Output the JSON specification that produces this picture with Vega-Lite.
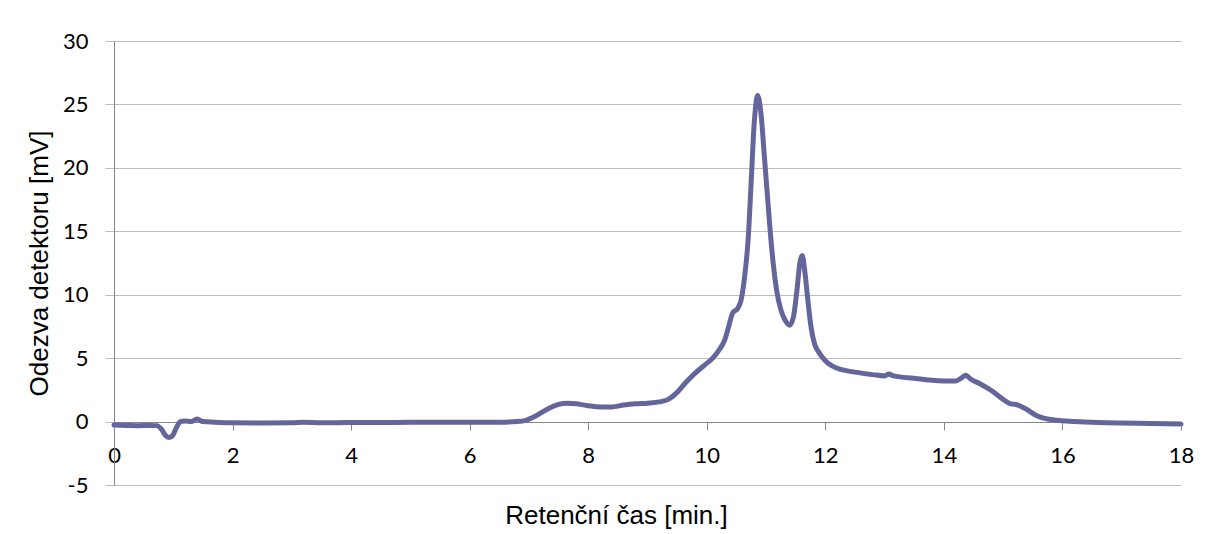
{
  "$schema": "https://vega.github.io/schema/vega-lite/v6.json",
  "autosize": "none",
  "width": 1067,
  "height": 444,
  "padding": {"left": 114, "top": 41, "right": 25, "bottom": 49},
  "background": "white",
  "config": {"view": {"stroke": null}},
  "data": {
    "values": [
      {"t": 0, "v": -0.28}, {"t": 0.2, "v": -0.3}, {"t": 0.4, "v": -0.32}, {"t": 0.6, "v": -0.3},
      {"t": 0.72, "v": -0.32}, {"t": 0.8, "v": -0.6}, {"t": 0.87, "v": -1.1}, {"t": 0.92, "v": -1.25},
      {"t": 0.98, "v": -1.15}, {"t": 1.05, "v": -0.5}, {"t": 1.12, "v": 0.0}, {"t": 1.2, "v": 0.05},
      {"t": 1.3, "v": 0.0}, {"t": 1.4, "v": 0.2}, {"t": 1.5, "v": 0.0}, {"t": 1.7, "v": -0.05},
      {"t": 2.0, "v": -0.1}, {"t": 2.5, "v": -0.12}, {"t": 3.0, "v": -0.1}, {"t": 3.2, "v": -0.05},
      {"t": 3.5, "v": -0.1}, {"t": 4.0, "v": -0.08}, {"t": 4.5, "v": -0.08}, {"t": 5.0, "v": -0.05},
      {"t": 5.5, "v": -0.06}, {"t": 6.0, "v": -0.05}, {"t": 6.5, "v": -0.05}, {"t": 6.8, "v": 0.0},
      {"t": 6.95, "v": 0.1}, {"t": 7.1, "v": 0.4}, {"t": 7.3, "v": 0.95}, {"t": 7.5, "v": 1.35},
      {"t": 7.65, "v": 1.45}, {"t": 7.8, "v": 1.4}, {"t": 8.0, "v": 1.25}, {"t": 8.2, "v": 1.15},
      {"t": 8.4, "v": 1.15}, {"t": 8.6, "v": 1.3}, {"t": 8.8, "v": 1.4}, {"t": 9.0, "v": 1.45},
      {"t": 9.2, "v": 1.55}, {"t": 9.35, "v": 1.75}, {"t": 9.5, "v": 2.3}, {"t": 9.65, "v": 3.1},
      {"t": 9.8, "v": 3.8}, {"t": 9.95, "v": 4.4}, {"t": 10.1, "v": 5.0}, {"t": 10.2, "v": 5.6},
      {"t": 10.3, "v": 6.4}, {"t": 10.37, "v": 7.5}, {"t": 10.44, "v": 8.6}, {"t": 10.52, "v": 8.9},
      {"t": 10.58, "v": 9.6}, {"t": 10.64, "v": 11.5}, {"t": 10.7, "v": 14.5}, {"t": 10.75, "v": 19.0},
      {"t": 10.8, "v": 23.5}, {"t": 10.86, "v": 25.7}, {"t": 10.92, "v": 24.0}, {"t": 10.97, "v": 21.0},
      {"t": 11.02, "v": 18.0}, {"t": 11.07, "v": 15.0}, {"t": 11.12, "v": 12.5}, {"t": 11.18, "v": 10.3},
      {"t": 11.25, "v": 8.8}, {"t": 11.32, "v": 8.0}, {"t": 11.4, "v": 7.6}, {"t": 11.46, "v": 8.2},
      {"t": 11.52, "v": 10.3}, {"t": 11.57, "v": 12.5}, {"t": 11.61, "v": 13.1}, {"t": 11.65, "v": 12.0},
      {"t": 11.7, "v": 9.8}, {"t": 11.76, "v": 7.4}, {"t": 11.82, "v": 6.1}, {"t": 11.9, "v": 5.4},
      {"t": 12.0, "v": 4.8}, {"t": 12.2, "v": 4.2}, {"t": 12.5, "v": 3.9}, {"t": 12.8, "v": 3.7},
      {"t": 13.0, "v": 3.6}, {"t": 13.07, "v": 3.75}, {"t": 13.15, "v": 3.6}, {"t": 13.4, "v": 3.45},
      {"t": 13.7, "v": 3.3}, {"t": 14.0, "v": 3.2}, {"t": 14.2, "v": 3.2}, {"t": 14.3, "v": 3.45},
      {"t": 14.37, "v": 3.65}, {"t": 14.45, "v": 3.35}, {"t": 14.6, "v": 3.0}, {"t": 14.8, "v": 2.45},
      {"t": 15.0, "v": 1.75}, {"t": 15.1, "v": 1.45}, {"t": 15.25, "v": 1.3}, {"t": 15.4, "v": 0.95},
      {"t": 15.55, "v": 0.5}, {"t": 15.7, "v": 0.25}, {"t": 15.9, "v": 0.1}, {"t": 16.2, "v": 0.0},
      {"t": 16.6, "v": -0.08}, {"t": 17.0, "v": -0.12}, {"t": 17.5, "v": -0.15}, {"t": 18.0, "v": -0.2}
    ]
  },
  "mark": {"type": "line", "color": "#64669b", "strokeWidth": 5, "interpolate": "monotone", "strokeCap": "round", "strokeJoin": "round"},
  "encoding": {
    "x": {
      "field": "t", "type": "quantitative",
      "scale": {"domain": [0, 18], "nice": false, "zero": false},
      "axis": {
        "values": [0, 2, 4, 6, 8, 10, 12, 14, 16, 18],
        "offset": -63,
        "grid": false,
        "domainColor": "#868686", "domainWidth": 1,
        "tickColor": "#868686", "tickSize": 8, "tickWidth": 1,
        "labelFont": "Lato", "labelFontSize": 22, "labelColor": "#000000", "labelPadding": 15,
        "labelFlush": false, "labelOverlap": false,
        "title": "Retenční čas [min.]",
        "titleFont": "Liberation Sans", "titleFontSize": 26, "titleFontWeight": "normal", "titleColor": "#000000",
        "titleAlign": "center", "titleBaseline": "alphabetic", "titleX": 502, "titleY": 101
      }
    },
    "y": {
      "field": "v", "type": "quantitative",
      "scale": {"domain": [-5, 30], "nice": false, "zero": false},
      "axis": {
        "values": [-5, 0, 5, 10, 15, 20, 25, 30],
        "labelExpr": "datum.value < 0 ? '-' + abs(datum.value) : '' + datum.value",
        "grid": true, "gridColor": "#bdbdbd", "gridWidth": 1,
        "domainColor": "#868686", "domainWidth": 1,
        "tickColor": "#bdbdbd", "tickSize": 9, "tickWidth": 1,
        "labelFont": "Lato", "labelFontSize": 22, "labelColor": "#000000", "labelPadding": 17,
        "labelFlush": false, "labelOverlap": false,
        "title": "Odezva detektoru [mV]",
        "titleFont": "Liberation Sans", "titleFontSize": 26, "titleFontWeight": "normal", "titleColor": "#000000",
        "titleAlign": "center", "titleBaseline": "alphabetic", "titleAngle": -90, "titleX": -66.5, "titleY": 222
      }
    }
  }
}
